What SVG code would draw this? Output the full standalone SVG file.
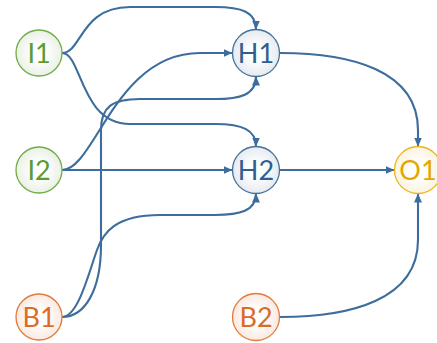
<svg xmlns="http://www.w3.org/2000/svg" width="437" height="343" viewBox="0 0 437 343">
<style>
.e{fill:none;stroke:#3D6D9C;stroke-width:2.1;marker-end:url(#ah)}
.n{stroke-width:1.3}
.t{font-family:Lato,"Open Sans",sans-serif;font-size:27px;text-anchor:middle}
.gi circle{fill:url(#gI);stroke:#70AD47}.gi text{fill:#5B9B32}
.gh circle{fill:url(#gH);stroke:#41719C}.gh text{fill:#2F5F8E}
.go circle{fill:url(#gO);stroke:#EDB41C}.go text{fill:#E3A800}
.gb circle{fill:url(#gB);stroke:#E07B39}.gb text{fill:#D96C27}
</style>
<defs>
<radialGradient id="gI"><stop offset="0.3" stop-color="#FFFFFF"/><stop offset="1" stop-color="#EAF0E6"/></radialGradient>
<radialGradient id="gH"><stop offset="0.3" stop-color="#FFFFFF"/><stop offset="1" stop-color="#E6EAF0"/></radialGradient>
<radialGradient id="gO"><stop offset="0.3" stop-color="#FFFFFF"/><stop offset="1" stop-color="#FBF3DF"/></radialGradient>
<radialGradient id="gB"><stop offset="0.3" stop-color="#FFFFFF"/><stop offset="1" stop-color="#FAE9E1"/></radialGradient>
<marker id="ah" markerUnits="userSpaceOnUse" markerWidth="10" markerHeight="10" refX="9" refY="4" orient="auto"><path d="M0,0 L9,4 L0,8 z" fill="#3D6D9C"/></marker>
</defs>
<g id="connectors">
<path class="e" d="M62,53 C82,53 80,7 130,7 L215,7 C242,7 256,12 256,29.5"/>
<path class="e" d="M62,53 C82,53 80,124 130,124 L215,124 C243,124 256,130 256,146.5"/>
<path class="e" d="M62,170 C95,170 115,53 200,53 L232.5,53"/>
<path class="e" d="M62,170 L232.5,170"/>
<path class="e" d="M62,317 C85,317 101,290 101,245 L101,130 C101,107 112,99 140,99 L215,99 C240,99 256,95 256,76.5"/>
<path class="e" d="M62,317 C78,317 88,275 97,250 C103,233 115,215 160,215 L215,215 C240,215 256,211 256,193.5"/>
<path class="e" d="M280,53 C350,53 418,70 418,130 L418,146.5"/>
<path class="e" d="M280,170 L394.5,170"/>
<path class="e" d="M280,317 C350,317 418,300 418,240 L418,193.5"/>
</g>
<g id="I1" class="gi"><circle class="n" cx="39" cy="53" r="23"/><text class="t" x="39" y="63">I1</text></g>
<g id="I2" class="gi"><circle class="n" cx="39" cy="170" r="23"/><text class="t" x="39" y="180">I2</text></g>
<g id="B1" class="gb"><circle class="n" cx="39" cy="317" r="23"/><text class="t" x="39" y="327">B1</text></g>
<g id="H1" class="gh"><circle class="n" cx="256" cy="53" r="23.5"/><text class="t" x="256" y="63">H1</text></g>
<g id="H2" class="gh"><circle class="n" cx="256" cy="170" r="23.5"/><text class="t" x="256" y="180">H2</text></g>
<g id="B2" class="gb"><circle class="n" cx="256" cy="317" r="23.5"/><text class="t" x="256" y="327">B2</text></g>
<g id="O1" class="go"><circle class="n" cx="418" cy="170" r="23.5"/><text class="t" x="418" y="180">O1</text></g>
</svg>
